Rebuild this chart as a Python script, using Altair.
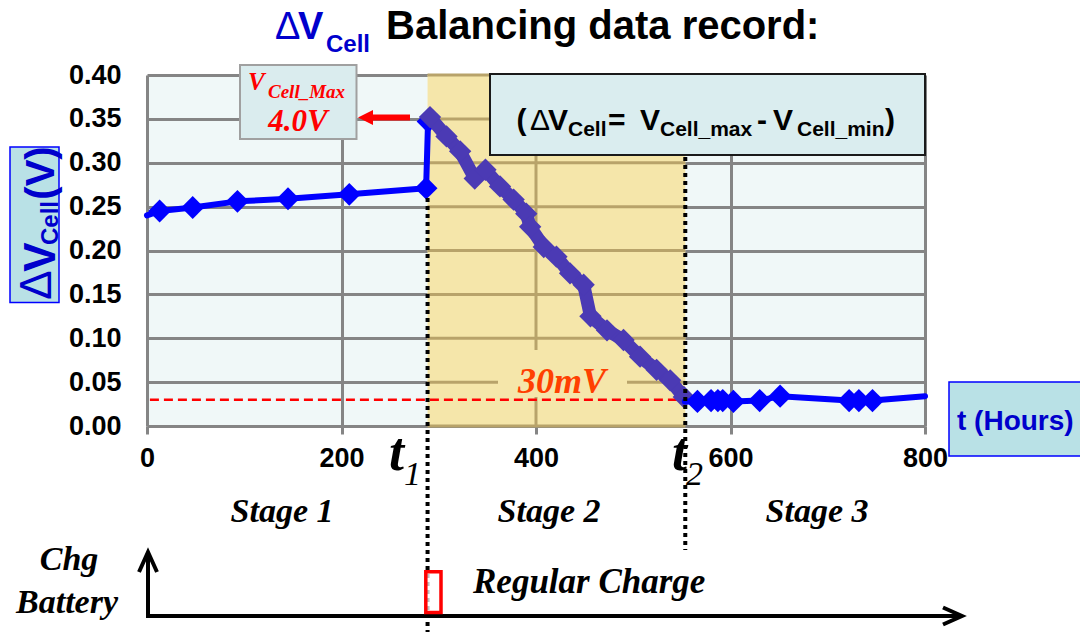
import altair as alt
import pandas as pd

# ---------------- data ----------------
stage1_t = [0, 13, 47, 93, 145, 208, 287, 289]
stage1_v = [0.240, 0.245, 0.249, 0.256, 0.259, 0.264, 0.271, 0.347]

stage2_t = [291, 308, 322, 337, 348, 363, 377, 390, 394, 408, 421, 435, 449,
            456, 473, 490, 507, 524, 538, 552]
stage2_v = [0.352, 0.330, 0.313, 0.282, 0.292, 0.273, 0.258, 0.242, 0.227,
            0.204, 0.193, 0.174, 0.161, 0.125, 0.109, 0.098, 0.079, 0.064,
            0.052, 0.033]

stage3_t = [553, 566, 580, 587, 592, 603, 630, 651, 722, 732, 746, 800]
stage3_v = [0.028, 0.028, 0.029, 0.029, 0.029, 0.028, 0.029, 0.034, 0.029,
            0.029, 0.029, 0.034]

x_ticks = [0, 200, 400, 600, 800]
y_ticks = [0.00, 0.05, 0.10, 0.15, 0.20, 0.25, 0.30, 0.35, 0.40]

t1_hours = 288.5
t2_hours = 553.5
threshold_v = 0.03

# ---------------- layout helpers ----------------
W, H = 778, 351
OX, OY = 147, 75
ONE = pd.DataFrame({"k": [0]})

BLUE = "#0000FF"
TXT_BLUE = "#0000CC"
PURPLE = "#4B3AB4"
TAN = "#F5E6AA"
TAN_GRID = "#B8A36A"
GRID = "#858585"

xs = alt.Scale(domain=[0, 800], nice=False, zero=False)
ys = alt.Scale(domain=[0, 0.4], nice=False)

x_axis = alt.Axis(values=x_ticks, grid=True, gridColor=GRID, gridWidth=3,
                  ticks=True, tickColor=GRID, tickWidth=3, tickSize=8,
                  domain=False, labelFont="Liberation Sans", labelFontSize=27,
                  labelFontWeight="bold", labelColor="black", labelPadding=11,
                  labelFlush=False, labelOverlap=False, title=None)
y_axis = alt.Axis(values=y_ticks, format=".2f", grid=True, gridColor=GRID,
                  gridWidth=3, ticks=False, tickSize=0, domain=False,
                  labelFont="Liberation Sans", labelFontSize=27,
                  labelFontWeight="bold", labelColor="black", labelPadding=26,
                  labelOverlap=False, title=None)


def X(f):
    return alt.X(f, type="quantitative", scale=xs, axis=x_axis)


def Y(f):
    return alt.Y(f, type="quantitative", scale=ys, axis=y_axis)


def px(x):
    return x - OX


def py(y):
    return y - OY


def label(s, x, y, size, color="black", serif=False, bold=True, italic=False,
          align="left", angle=0):
    return alt.Chart(ONE).mark_text(
        text=s,
        font="Liberation Serif" if serif else "Liberation Sans",
        fontSize=size,
        fontWeight="bold" if bold else "normal",
        fontStyle="italic" if italic else "normal",
        color=color, align=align, baseline="alphabetic", angle=angle,
    ).encode(x=alt.value(px(x)), y=alt.value(py(y)))


def box(x1, y1, x2, y2, fill, stroke=None, sw=0, fill_opacity=1):
    kw = dict(fill=fill, fillOpacity=fill_opacity)
    if stroke:
        kw.update(stroke=stroke, strokeWidth=sw)
    return alt.Chart(ONE).mark_rect(**kw).encode(
        x=alt.value(px(x1)), x2=alt.value(px(x2)),
        y=alt.value(py(y1)), y2=alt.value(py(y2)))


def seg(x1, y1, x2, y2, color, sw, dash=None):
    kw = dict(color=color, strokeWidth=sw)
    if dash:
        kw["strokeDash"] = dash
    return alt.Chart(ONE).mark_rule(**kw).encode(
        x=alt.value(px(x1)), x2=alt.value(px(x2)),
        y=alt.value(py(y1)), y2=alt.value(py(y2)))


def symbol(path, x, y, size, color, filled, sw=0):
    kw = dict(shape=path, size=size, filled=filled, color=color, opacity=1)
    if not filled:
        kw["strokeWidth"] = sw
    return alt.Chart(ONE).mark_point(**kw).encode(
        x=alt.value(px(x)), y=alt.value(py(y)))


df1 = pd.DataFrame({"t": stage1_t, "v": stage1_v})
df2 = pd.DataFrame({"t": stage2_t, "v": stage2_v})
df3 = pd.DataFrame({"t": stage3_t, "v": stage3_v})
band = pd.DataFrame({"t": [t1_hours], "b": [t2_hours],
                     "v": [y_ticks[0]], "hi": [y_ticks[-1]]})
dfy = pd.DataFrame({"v": y_ticks, "t": t1_hours, "b": t2_hours})
dfx = pd.DataFrame({"t": [t for t in x_ticks if t1_hours < t < t2_hours],
                    "v": y_ticks[0], "hi": y_ticks[-1]})
thr = pd.DataFrame({"v": [threshold_v], "t": [3], "b": [t2_hours]})
marks_t = pd.DataFrame({"t": [t1_hours, t2_hours]})

layers = []

# stage-2 background band
layers.append(alt.Chart(band).mark_rect(color=TAN).encode(
    x=X("t"), x2="b:Q", y=Y("v"), y2="hi:Q"))

# tan-coloured grid inside the band
layers.append(alt.Chart(dfy).mark_rule(color=TAN_GRID, strokeWidth=3).encode(
    y=Y("v"), x=X("t"), x2="b:Q"))
layers.append(alt.Chart(dfx).mark_rule(color=TAN_GRID, strokeWidth=3).encode(
    x=X("t"), y=Y("v"), y2="hi:Q"))

# background behind the 30mV label
layers.append(box(498, 350, 627, 397, TAN))

# 30 mV threshold line
layers.append(alt.Chart(thr).mark_rule(color="#FF0000", strokeWidth=2.5,
                                       strokeDash=[9, 5]).encode(
    y=Y("v"), x=X("t"), x2="b:Q"))

# data series
layers.append(alt.Chart(df1).mark_line(color=BLUE, strokeWidth=6,
                                       strokeCap="round", strokeJoin="round").encode(
    x=X("t"), y=Y("v")))
layers.append(alt.Chart(df1.iloc[1:]).mark_point(shape="diamond", filled=True,
                                                 size=520, color=BLUE, opacity=1).encode(
    x=X("t"), y=Y("v")))
layers.append(alt.Chart(df2).mark_line(color=PURPLE, strokeWidth=13,
                                       strokeJoin="round").encode(
    x=X("t"), y=Y("v")))
layers.append(alt.Chart(df2).mark_point(shape="diamond", filled=True, size=500,
                                        color=PURPLE, opacity=1).encode(
    x=X("t"), y=Y("v")))
layers.append(alt.Chart(df3).mark_line(color=BLUE, strokeWidth=6,
                                       strokeCap="round", strokeJoin="round").encode(
    x=X("t"), y=Y("v")))
layers.append(alt.Chart(df3.iloc[1:-1]).mark_point(shape="diamond", filled=True,
                                                   size=540, color=BLUE, opacity=1).encode(
    x=X("t"), y=Y("v")))

# t1 / t2 dotted markers
layers.append(alt.Chart(marks_t.iloc[[0]]).mark_rule(color="black", strokeWidth=4,
                                                     strokeDash=[4, 4]).encode(
    x=X("t"), y=alt.value(py(198)), y2=alt.value(py(632))))
layers.append(alt.Chart(marks_t.iloc[[1]]).mark_rule(color="black", strokeWidth=4,
                                                     strokeDash=[4, 4]).encode(
    x=X("t"), y=alt.value(py(157)), y2=alt.value(py(550))))

# ---------------- title ----------------
layers.append(label("Δ", 275, 39, 38, TXT_BLUE, bold=False))
layers.append(label("V", 298, 39, 38, TXT_BLUE))
layers.append(label("Cell", 326, 52, 24, TXT_BLUE))
layers.append(label("Balancing data record:", 386, 39, 40, "black"))

# ---------------- y-axis title box ----------------
layers.append(box(10, 147, 59, 302.5, "#B9E1E6", BLUE, 1.5))
layers.append(label("Δ", 51, 285, 44, TXT_BLUE, bold=False, align="center", angle=270))
layers.append(label("V", 55, 257, 44, TXT_BLUE, align="center", angle=270))
layers.append(label("Cell", 58, 223, 24, TXT_BLUE, align="center", angle=270))
layers.append(label("(V)", 54, 173, 40, TXT_BLUE, align="center", angle=270))

# ---------------- VCell_Max annotation ----------------
layers.append(box(240, 65, 356.5, 139, "#DAECEE", "#A0A0A0", 2))
layers.append(label("V", 248, 90, 25, "#FF0000", serif=True, italic=True))
layers.append(label("Cell_Max", 268, 98, 19, "#FF0000", serif=True, italic=True))
layers.append(label("4.0V", 298, 131, 31, "#FF0000", serif=True, italic=True,
                    align="center"))
layers.append(seg(371, 117.5, 410, 117.5, "#FF0000", 6))
layers.append(symbol("M -1 0 L 1 -1 L 1 1 Z", 365.5, 117.5, 225, "#FF0000", True))

# ---------------- formula box ----------------
layers.append(box(490, 74, 925, 155, "#DAEDEF", "#1A1A1A", 2))
for s, x, base, size, bold in [
    ("(", 516.5, 130, 30, True), ("Δ", 530, 130, 30, False),
    ("V", 548, 130, 30, True), ("Cell", 568, 136, 21, True),
    ("=", 608, 130, 30, True), ("V", 640, 130, 30, True),
    ("Cell_max", 660, 136, 21, True), ("-", 757, 130, 30, True),
    ("V", 773, 130, 30, True), ("Cell_min", 797, 136, 21, True),
    (")", 885, 130, 30, True),
]:
    layers.append(label(s, x, base, size, "black", bold=bold))

# ---------------- 30 mV label ----------------
layers.append(label("30mV", 518, 393, 36, "#FF4000", serif=True, italic=True))

# ---------------- x-axis title box ----------------
layers.append(box(949, 382, 1086, 456, "#B9E1E6", BLUE, 1.5))
layers.append(label("t (Hours)", 957, 430, 28, TXT_BLUE))

# ---------------- t1 / t2 labels ----------------
layers.append(label("t", 389, 470, 54, serif=True, italic=True))
layers.append(label("1", 404, 485, 34, serif=True, italic=True, bold=False))
layers.append(label("t", 672, 470, 54, serif=True, italic=True))
layers.append(label("2", 686, 485, 34, serif=True, italic=True, bold=False))

# ---------------- stage labels ----------------
layers.append(label("Stage 1", 282, 522, 34, serif=True, italic=True, align="center"))
layers.append(label("Stage 2", 549, 522, 34, serif=True, italic=True, align="center"))
layers.append(label("Stage 3", 817, 522, 34, serif=True, italic=True, align="center"))

# ---------------- charge timeline ----------------
layers.append(label("Chg", 69, 570, 34, serif=True, italic=True, align="center"))
layers.append(label("Battery", 67, 613, 34, serif=True, italic=True, align="center"))
layers.append(seg(148, 556, 148, 618, "black", 4))
layers.append(seg(146, 616, 958, 616, "black", 4))
layers.append(symbol("M -0.9 1 L 0 -1 L 0.9 1", 148, 562, 400, "black", False, 4))
layers.append(symbol("M -1 -0.9 L 1 0 L -1 0.9", 952.5, 616, 361, "black", False, 4))
layers.append(box(425.8, 571.8, 441, 612.5, "white", "#FF0000", 3.5, fill_opacity=0.75))
layers.append(label("Regular Charge", 473, 593, 35, serif=True, italic=True))

chart = alt.layer(*layers).properties(
    width=W, height=H,
    autosize="none",
    padding={"left": OX, "top": OY, "right": 1080 - OX - W, "bottom": 632 - OY - H},
    background="white",
).configure_view(fill="#F0F8F8", stroke=None)

chart.save("out.html", embed_options={"renderer": "svg", "actions": False})
